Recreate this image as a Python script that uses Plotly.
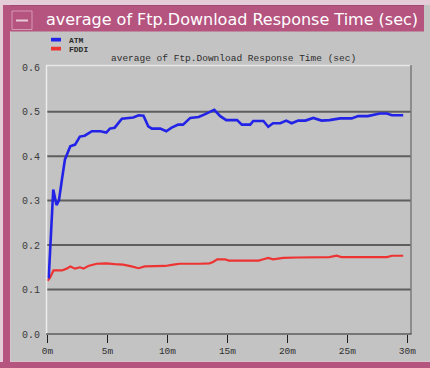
import plotly.graph_objects as go

# ---- data -------------------------------------------------------------
atm_minutes = [0.1, 0.48, 0.75, 0.95, 1.2, 1.45, 1.9, 2.3, 2.7, 3.1, 3.7, 4.4, 4.9,
               5.2, 5.6, 6.2, 7.15, 7.6, 8.0, 8.4, 8.7, 9.4, 9.9, 10.35, 10.9,
               11.3, 11.9, 12.6, 13.1, 13.9, 14.4, 14.9, 15.8, 16.2, 16.9, 17.15,
               18.0, 18.4, 18.8, 19.4, 19.9, 20.35, 20.9, 21.5, 22.15, 22.85,
               23.5, 24.4, 25.35, 25.9, 26.7, 27.15, 27.7, 28.3, 28.7, 29.65]
atm_values = [0.125, 0.325, 0.29, 0.30, 0.347, 0.392, 0.422, 0.426, 0.444, 0.446,
              0.456, 0.456, 0.453, 0.462, 0.464, 0.484, 0.487, 0.492, 0.491,
              0.467, 0.462, 0.462, 0.456, 0.464, 0.471, 0.471, 0.486, 0.488,
              0.494, 0.504, 0.490, 0.481, 0.481, 0.471, 0.471, 0.479, 0.479,
              0.466, 0.474, 0.474, 0.480, 0.474, 0.480, 0.480, 0.486, 0.480,
              0.481, 0.485, 0.485, 0.490, 0.490, 0.492, 0.496, 0.496, 0.492,
              0.492]

fddi_minutes = [0.0, 0.2, 0.5, 1.2, 1.6, 1.9, 2.3, 2.7, 3.0, 3.4, 4.1, 4.9, 5.6,
                6.3, 7.0, 7.6, 8.1, 8.8, 9.8, 10.5, 11.0, 12.7, 13.5, 13.8,
                14.15, 14.8, 15.1, 16.0, 17.6, 18.0, 18.4, 18.8, 19.65, 20.8,
                22.15, 23.5, 24.1, 24.5, 26.3, 28.3, 28.7, 29.65]
fddi_values = [0.12, 0.126, 0.143, 0.143, 0.147, 0.152, 0.147, 0.150, 0.147,
               0.153, 0.158, 0.159, 0.157, 0.156, 0.152, 0.148, 0.152, 0.152,
               0.153, 0.156, 0.158, 0.158, 0.159, 0.162, 0.168, 0.168, 0.165,
               0.165, 0.165, 0.168, 0.171, 0.168, 0.171, 0.172, 0.173, 0.173,
               0.176, 0.173, 0.173, 0.173, 0.176, 0.176]

x_tick_values = [0, 5, 10, 15, 20, 25, 30]
x_tick_labels = ["0m", "5m", "10m", "15m", "20m", "25m", "30m"]
y_tick_values = [0.0, 0.1, 0.2, 0.3, 0.4, 0.5, 0.6]
y_tick_labels = ["0.0", "0.1", "0.2", "0.3", "0.4", "0.5", "0.6"]
grid_values = [0.1, 0.2, 0.3, 0.4, 0.5]

series_names = ["ATM", "FDDI"]
window_title = "average of Ftp.Download Response Time (sec)"
chart_title = "average of Ftp.Download Response Time (sec)"

# ---- geometry / styling ----------------------------------------------
W, H = 430, 368
ML, MR, MT, MB = 46, 19, 65, 34
PW, PH = W - ML - MR, H - MT - MB

GRAY = "#c3c3c3"
PINK = "#b5557f"
PINK_LIGHT = "#e4cdd8"
BLUE = "#2323e8"
RED = "#ee3333"
MONO = "Liberation Mono, DejaVu Sans Mono, monospace"


def px(x):
    return (x - ML) / PW


def py(y):
    return (H - MB - y) / PH


fig = go.Figure()

fig.add_trace(go.Scatter(x=fddi_minutes, y=fddi_values, mode="lines",
                         name=series_names[1], line=dict(color=RED, width=2.2),
                         showlegend=False))
fig.add_trace(go.Scatter(x=atm_minutes, y=atm_values, mode="lines",
                         name=series_names[0], line=dict(color=BLUE, width=2.6),
                         showlegend=False))

shapes = []


def rect(x0, y0, x1, y1, fill, line=None, layer="below"):
    shapes.append(dict(type="rect", xref="paper", yref="paper",
                       x0=px(x0), x1=px(x1), y0=py(y0), y1=py(y1),
                       fillcolor=fill, line=dict(width=0) if line is None else line,
                       layer=layer))


def hline(x0, x1, y, color, width, layer="below"):
    shapes.append(dict(type="line", xref="paper", yref="paper",
                       x0=px(x0), x1=px(x1), y0=py(y), y1=py(y),
                       line=dict(color=color, width=width), layer=layer))


def vline(x, y0, y1, color, width, layer="below"):
    shapes.append(dict(type="line", xref="paper", yref="paper",
                       x0=px(x), x1=px(x), y0=py(y0), y1=py(y1),
                       line=dict(color=color, width=width), layer=layer))


# window frame
rect(0, 0, W, 5, PINK_LIGHT)
rect(0, 5, 424, 31.5, PINK)
hline(0, 424, 5.5, "#9e4a70", 1)
rect(0, 0, 3, H, PINK_LIGHT)
rect(3, 5, 10, H, PINK)
vline(10.5, 31.5, 362, "#d9c4ce", 1)
rect(0, 362, W, H, PINK)
hline(10, W, 361.5, "#d9c4ce", 1)
# title-bar button
rect(12, 11, 32, 29.5, PINK, line=dict(color="#d69ab5", width=1))
hline(16, 28, 20.5, "#e8c9d7", 2)

# grid lines
for g in grid_values:
    shapes.append(dict(type="line", xref="paper", yref="y", x0=0, x1=1,
                       y0=g, y1=g, line=dict(color="#5e5e5e", width=2),
                       layer="below"))

# bevelled plot border
hline(46, 411.5, 65.5, "#e6e6e6", 1.5, layer="above")
vline(46.5, 65, 334, "#ececec", 1.5, layer="above")
vline(411, 65, 334, "#7a7a7a", 1.5, layer="above")
hline(46, 411.5, 334, "#2a2a2a", 1.2, layer="above")

# legend swatches
rect(51, 37.8, 61, 41.5, BLUE)
rect(51, 46.8, 61, 50.5, RED)

annotations = [
    dict(text=window_title, xref="paper", yref="paper", x=px(44), y=py(19.5),
         xanchor="left", yanchor="middle", showarrow=False,
         font=dict(family="DejaVu Sans", size=16, color="white")),
    dict(text=chart_title, xref="paper", yref="paper", x=px(233), y=py(58.5),
         xanchor="center", yanchor="middle", showarrow=False,
         font=dict(family=MONO, size=9.5, color="#2e2e2e")),
    dict(text="<b>" + series_names[0] + "</b>", xref="paper", yref="paper",
         x=px(67), y=py(40), xanchor="left", yanchor="middle", showarrow=False,
         font=dict(family=MONO, size=8, color="#2a2a2a")),
    dict(text="<b>" + series_names[1] + "</b>", xref="paper", yref="paper",
         x=px(67), y=py(49), xanchor="left", yanchor="middle", showarrow=False,
         font=dict(family=MONO, size=8, color="#2a2a2a")),
]

fig.update_layout(
    width=W, height=H,
    margin=dict(l=ML, r=MR, t=MT, b=MB, pad=0),
    paper_bgcolor=GRAY, plot_bgcolor=GRAY,
    shapes=shapes, annotations=annotations,
    xaxis=dict(range=[-0.125, 30.3], tickvals=x_tick_values, ticktext=x_tick_labels,
               ticks="outside", ticklen=8, tickwidth=1.2, tickcolor="#1e1e1e",
               showgrid=False, zeroline=False, showline=False, fixedrange=True,
               tickfont=dict(family=MONO, size=9.5, color="#303030")),
    yaxis=dict(range=[0, 0.605], tickvals=y_tick_values, ticktext=y_tick_labels,
               ticks="", ticklabelstandoff=5,
               showgrid=False, zeroline=False, showline=False, fixedrange=True,
               tickfont=dict(family=MONO, size=10, color="#3a3a3a")),
)

fig.write_html("out.html", config={"displayModeBar": False})
